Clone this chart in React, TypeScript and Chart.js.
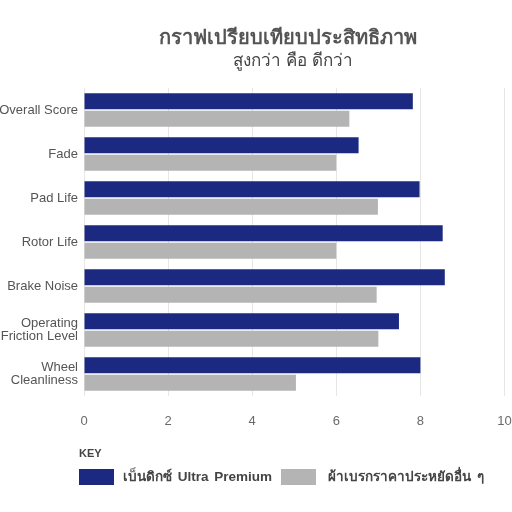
import React, { useEffect, useRef } from "react";
import { Chart, registerables } from "chart.js";

Chart.register(...registerables);

const titleText = "กราฟเปรียบเทียบประสิทธิภาพ";
const subtitleText = "สูงกว่า คือ ดีกว่า";
const keyText = "KEY";

const categories: (string | string[])[] = [
  "Overall Score",
  "Fade",
  "Pad Life",
  "Rotor Life",
  "Brake Noise",
  ["Operating", "Friction Level"],
  ["Wheel", "Cleanliness"],
];

const seriesNames = ["เบ็นดิกซ์ Ultra Premium", "ผ้าเบรกราคาประหยัดอื่น ๆ"];
const seriesColors = ["#1b2a80", "#b4b4b4"];

const bendixValues = [7.82, 6.53, 7.98, 8.53, 8.58, 7.49, 8.0];
const otherValues = [6.31, 6.0, 6.99, 6.0, 6.96, 7.0, 5.04];

const xTicks = [0, 2, 4, 6, 8, 10];

const FONT = "'Liberation Sans', Arial, sans-serif";

export default function App() {
  const canvasRef = useRef<HTMLCanvasElement | null>(null);

  useEffect(() => {
    if (!canvasRef.current) return;
    const chart = new Chart(canvasRef.current, {
      type: "bar",
      data: {
        labels: categories,
        datasets: [
          {
            label: seriesNames[0],
            data: bendixValues,
            backgroundColor: seriesColors[0],
            barPercentage: 0.91,
            categoryPercentage: 0.8,
          },
          {
            label: seriesNames[1],
            data: otherValues,
            backgroundColor: seriesColors[1],
            barPercentage: 0.91,
            categoryPercentage: 0.8,
          },
        ],
      },
      options: {
        indexAxis: "y",
        responsive: false,
        animation: false,
        devicePixelRatio: 1,
        layout: { padding: { top: 88, bottom: 76, left: 0, right: 0 } },
        plugins: {
          legend: { display: false },
          title: { display: false },
          tooltip: { enabled: false },
        },
        scales: {
          x: {
            min: 0,
            max: 10,
            afterBuildTicks: (scale: any) => {
              scale.ticks = xTicks.map((v) => ({ value: v }));
            },
            afterFit: (scale: any) => {
              scale.height = 40;
              scale.paddingRight = 7.5;
              scale.paddingLeft = 0;
            },
            grid: { color: "#e6e6e6", lineWidth: 1, drawTicks: false },
            border: { display: false },
            ticks: {
              padding: 18,
              maxRotation: 0,
              color: "#6a6a6a",
              font: { family: FONT, size: 13 },
            },
          },
          y: {
            afterFit: (scale: any) => {
              scale.width = 84;
            },
            grid: { display: false, drawTicks: false },
            border: { display: false },
            ticks: {
              padding: 6,
              color: "#555555",
              font: { family: FONT, size: 13, lineHeight: 1.05 },
            },
          },
        },
      },
    });
    return () => chart.destroy();
  }, []);

  return (
    <div
      style={{
        position: "absolute",
        left: 0,
        top: 0,
        width: 512,
        height: 512,
        background: "#ffffff",
        fontFamily: FONT,
        overflow: "hidden",
      }}
    >
      <canvas
        ref={canvasRef}
        width={512}
        height={512}
        style={{ position: "absolute", left: 0, top: 0, width: 512, height: 512 }}
      />
      <div
        style={{
          position: "absolute",
          left: 88,
          width: 400,
          top: 23,
          textAlign: "center",
          fontSize: 20,
          fontWeight: "bold",
          color: "#555555",
          lineHeight: "28px",
        }}
      >
        {titleText}
      </div>
      <div
        style={{
          position: "absolute",
          left: 93,
          width: 400,
          top: 50,
          textAlign: "center",
          fontSize: 17,
          color: "#444444",
          lineHeight: "22px",
        }}
      >
        {subtitleText}
      </div>
      <div
        style={{
          position: "absolute",
          left: 79,
          top: 446,
          fontSize: 11,
          fontWeight: "bold",
          color: "#444444",
          lineHeight: "14px",
        }}
      >
        {keyText}
      </div>
      {seriesNames.map((name, i) => (
        <React.Fragment key={name}>
          <div
            style={{
              position: "absolute",
              left: i === 0 ? 79 : 281,
              top: 469,
              width: 35,
              height: 16,
              background: seriesColors[i],
            }}
          />
          <div
            style={{
              position: "absolute",
              left: i === 0 ? 123 : 328,
              top: 469,
              fontSize: 13.5,
              fontWeight: 600,
              color: "#444444",
              lineHeight: "16px",
              wordSpacing: 2,
              whiteSpace: "nowrap",
            }}
          >
            {name}
          </div>
        </React.Fragment>
      ))}
    </div>
  );
}
